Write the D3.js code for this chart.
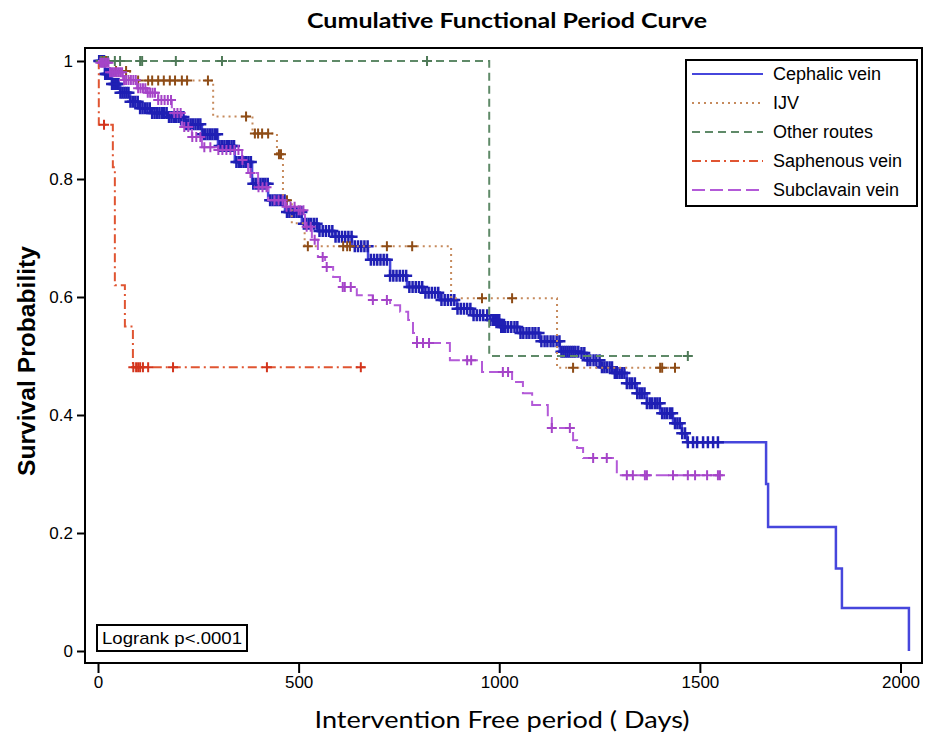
<!DOCTYPE html>
<html>
<head>
<meta charset="utf-8">
<script src="https://cdnjs.cloudflare.com/ajax/libs/d3/7.8.5/d3.min.js"></script>
<style>
body{margin:0;background:#fff;}
text{font-family:"Liberation Sans",Arial,sans-serif;fill:#000;}
</style>
</head>
<body>
<svg id="viz" width="931" height="737"></svg>
<script>
window.onload = main;

// step curves: days and survival after each drop
var cephalicDays = [0,17,35,55,80,105,135,174,217,259,299,341,384,424,466,508,548,591,633,673,728,770,810,852,895,935,977,1002,1052,1102,1151,1201,1219,1251,1283,1318,1343,1368,1401,1433,1455,1468,1665,1670,1839,1854,2021];
var cephalicSurv = [1,0.978,0.961,0.946,0.931,0.920,0.912,0.905,0.893,0.876,0.856,0.829,0.792,0.764,0.744,0.724,0.712,0.702,0.686,0.663,0.636,0.617,0.607,0.595,0.580,0.569,0.561,0.549,0.539,0.525,0.507,0.505,0.493,0.481,0.471,0.454,0.437,0.420,0.403,0.386,0.369,0.354,0.283,0.210,0.140,0.073,0];
// censored cases sit so close together that they form a solid band
var cephalicCensor = [3,6,9,12,15,18,21,24,27,31,35,39,43,47,51,56,61,66,71,76,81,87,93,99,105,111,117,123,129,135,141,147,153,159,165,171,177,183,189,195,201,207,213,219,225,231,237,243,249,255,261,267,273,279,285,291,297,303,309,315,321,327,333,339,345,351,357,363,369,375,381,387,393,399,405,411,417,423,429,435,441,447,453,459,465,471,477,483,489,495,501,507,513,519,525,531,538,545,552,560,568,576,584,592,600,608,616,624,632,640,648,656,664,672,680,688,696,704,712,720,728,736,744,752,760,768,776,784,792,800,808,816,824,832,840,848,856,864,872,880,888,896,904,912,920,928,936,944,952,960,970,978,985,990,995,1000,1005,1010,1015,1022,1030,1038,1045,1053,1060,1068,1075,1083,1090,1098,1105,1113,1120,1128,1135,1143,1150,1155,1160,1165,1170,1175,1180,1185,1190,1197,1205,1212,1220,1227,1235,1242,1250,1256,1262,1268,1275,1281,1288,1294,1300,1306,1312,1318,1325,1331,1338,1344,1350,1356,1362,1368,1375,1381,1388,1394,1400,1406,1412,1418,1425,1431,1438,1444,1450,1456,1463,1470,1483,1493,1508,1520,1533,1545];

var ijvDays = [0,30,80,287,385,446,461,483,515,880,1144,1438];
var ijvSurv = [1,0.983,0.967,0.906,0.877,0.842,0.764,0.725,0.686,0.598,0.480,0.480];
var ijvCensor = [7,12,20,45,70,100,125,135,150,164,179,192,209,222,274,369,391,399,409,424,451,456,471,523,611,621,628,720,783,957,1032,1184,1401,1406,1438];

var otherDays = [0,975,1470];
var otherSurv = [1,0.5,0.5];
var otherCensor = [7,15,25,42,55,105,110,194,309,820,1470];

var saphDays = [0,2,37,42,67,87,665];
var saphSurv = [1,0.892,0.82,0.62,0.55,0.481,0.481];
var saphCensor = [15,88,95,100,105,112,125,187,421,655];

var subDays = [0,5,30,62,97,122,150,184,209,234,259,299,359,374,399,424,466,491,516,533,548,566,586,603,645,685,728,753,773,785,795,877,957,1032,1059,1082,1121,1131,1184,1194,1209,1293,1550];
var subSurv = [1,0.997,0.981,0.968,0.954,0.946,0.934,0.912,0.888,0.871,0.854,0.849,0.832,0.810,0.786,0.764,0.753,0.747,0.719,0.697,0.668,0.651,0.634,0.617,0.603,0.595,0.586,0.575,0.561,0.539,0.522,0.493,0.473,0.456,0.437,0.417,0.395,0.378,0.357,0.344,0.327,0.298,0.298];
var subCensor = [6,10,14,18,22,26,30,35,40,45,50,55,60,65,70,76,82,88,94,100,106,112,118,124,130,136,142,150,158,166,174,182,190,198,206,215,225,235,245,255,265,280,300,310,320,330,340,350,360,380,400,410,420,440,450,460,470,480,490,500,505,512,520,530,540,560,570,610,615,630,685,720,795,810,825,920,930,1009,1022,1131,1176,1234,1268,1318,1333,1363,1368,1433,1470,1488,1518,1545,1550];

var groupNames = ["Cephalic vein","IJV","Other routes","Saphenous vein","Subclavain vein"];
var xTicks = [0,500,1000,1500,2000];
var yTicks = [0,0.2,0.4,0.6,0.8,1];

var frame = {left: 85, top: 48, right: 922, bottom: 663};

function survAt(days, surv, day){
  var s = surv[0];
  for(var i = 0; i < days.length; i++){
    if(days[i] <= day){ s = surv[i]; }
  }
  return s;
}

function main(){
  var svg = d3.select("#viz");

  var xScale = d3.scaleLinear().domain([0,2000]).range([98,900.5]);
  var yScale = d3.scaleLinear().domain([0,1]).range([651,61]);

  var groups = [
    {days: cephalicDays, surv: cephalicSurv, censor: cephalicCensor, line: "#4646dc", mark: "#1f1fb4", dash: null, w: 2.5, m: 6},
    {days: ijvDays, surv: ijvSurv, censor: ijvCensor, line: "#c68a5c", mark: "#8e4c16", dash: "2,4", w: 2, m: 5},
    {days: otherDays, surv: otherSurv, censor: otherCensor, line: "#5f8a68", mark: "#4f7a58", dash: "8,5", w: 2, m: 5},
    {days: saphDays, surv: saphSurv, censor: saphCensor, line: "#e05532", mark: "#d3341c", dash: "9,4,2,4", w: 2, m: 5},
    {days: subDays, surv: subSurv, censor: subCensor, line: "#b35ad8", mark: "#a544c8", dash: "13,5", w: 2, m: 5}
  ];

  // axes
  var xAxis = svg.append("g")
    .attr("transform", "translate(0," + frame.bottom + ")")
    .call(d3.axisBottom(xScale).tickValues(xTicks).tickSize(10).tickPadding(3).tickFormat(d3.format("d")));
  var yAxis = svg.append("g")
    .attr("transform", "translate(" + frame.left + ",0)")
    .call(d3.axisLeft(yScale).tickValues(yTicks).tickSize(8).tickPadding(4)
      .tickFormat(function(d){ return (d === 0 || d === 1) ? d : d.toFixed(1); }));
  [xAxis, yAxis].forEach(function(a){
    a.select(".domain").remove();
    a.selectAll("line").attr("stroke","#000").attr("stroke-width",2);
    a.selectAll("text").style("font-family","Liberation Sans, Arial, sans-serif").style("font-size","17px").attr("fill","#000");
  });

  var line = d3.line()
    .x(function(d){ return xScale(d[0]); })
    .y(function(d){ return yScale(d[1]); })
    .curve(d3.curveStepAfter);

  var plot = svg.append("g");
  groups.forEach(function(g){
    var pts = g.days.map(function(d,i){ return [d, g.surv[i]]; });
    plot.append("path")
      .datum(pts)
      .attr("d", line)
      .attr("fill","none")
      .attr("stroke", g.line)
      .attr("stroke-width", g.w)
      .attr("stroke-dasharray", g.dash);
    plot.selectAll(null)
      .data(g.censor)
      .enter().append("path")
      .attr("transform", function(d){ return "translate(" + xScale(d) + "," + yScale(survAt(g.days, g.surv, d)) + ")"; })
      .attr("d", "M" + (-g.m) + ",0H" + g.m + "M0," + (-g.m) + "V" + g.m)
      .attr("stroke", g.mark)
      .attr("stroke-width", g.w)
      .attr("fill","none");
  });

  // frame
  svg.append("rect")
    .attr("x", frame.left).attr("y", frame.top)
    .attr("width", frame.right - frame.left).attr("height", frame.bottom - frame.top)
    .attr("fill","none").attr("stroke","#000").attr("stroke-width",2);

  // legend
  var legend = svg.append("g");
  legend.append("rect")
    .attr("x",686).attr("y",60).attr("width",231).attr("height",146)
    .attr("fill","#fff").attr("stroke","#000").attr("stroke-width",2);
  groupNames.forEach(function(name,i){
    var yy = 74 + i * 29;
    legend.append("line")
      .attr("x1",692).attr("x2",763).attr("y1",yy).attr("y2",yy)
      .attr("stroke", groups[i].line).attr("stroke-width",2)
      .attr("stroke-dasharray", groups[i].dash);
    legend.append("text")
      .attr("x",773).attr("y",yy + 6)
      .style("font-size","18px")
      .text(name);
  });

  // logrank box
  svg.append("rect")
    .attr("x",97).attr("y",625).attr("width",150).attr("height",26)
    .attr("fill","#fff").attr("stroke","#000").attr("stroke-width",2);
  svg.append("text")
    .attr("x",102).attr("y",644)
    .attr("textLength",140).attr("lengthAdjust","spacingAndGlyphs")
    .style("font-size","17px")
    .text("Logrank p<.0001");

  // titles
  svg.append("text")
    .attr("x",507).attr("y",28)
    .attr("text-anchor","middle")
    .attr("textLength",400).attr("lengthAdjust","spacingAndGlyphs")
    .style("font-family","Lato, 'Open Sans', sans-serif")
    .style("font-weight","bold").style("font-size","21px")
    .text("Cumulative Functional Period Curve");
  svg.append("text")
    .attr("transform","translate(35,361) rotate(-90)")
    .attr("text-anchor","middle")
    .attr("textLength",230).attr("lengthAdjust","spacingAndGlyphs")
    .style("font-weight","bold").style("font-size","23px")
    .text("Survival Probability");
  svg.append("text")
    .attr("x",502).attr("y",728)
    .attr("text-anchor","middle")
    .attr("textLength",375).attr("lengthAdjust","spacingAndGlyphs")
    .style("font-family","Lato, 'Open Sans', sans-serif")
    .style("font-size","24px")
    .text("Intervention Free period ( Days)");
}
</script>
</body>
</html>
